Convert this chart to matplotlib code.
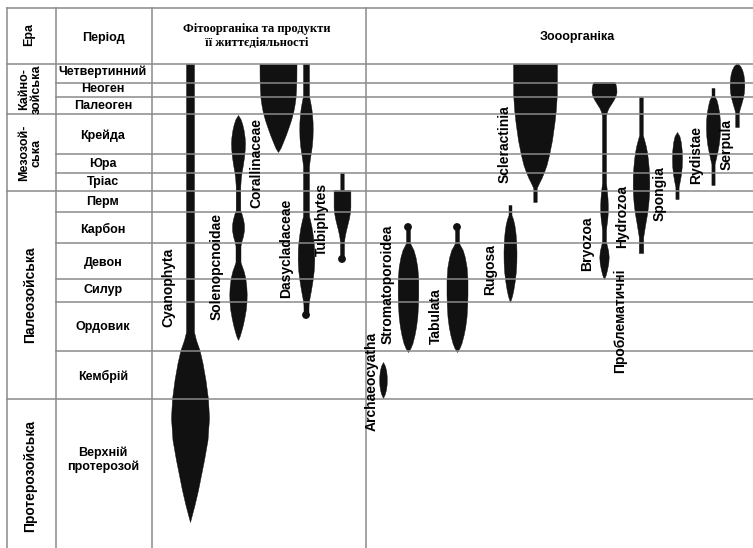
import matplotlib
matplotlib.use("Agg")
import matplotlib.pyplot as plt
from matplotlib.patches import Circle

# ---------------- data ----------------
era_names = ["Кайно-\nзойська", "Мезозой-\nська", "Палеозойська", "Протерозойська"]
era_bounds = [64, 114, 191, 399, 548]

period_names = ["Четвертинний", "Неоген", "Палеоген", "Крейда", "Юра", "Тріас",
                "Перм", "Карбон", "Девон", "Силур", "Ордовик", "Кембрій",
                "Верхній\nпротерозой"]
period_bounds = [64, 83, 97, 114, 154, 173, 191, 212, 243, 279, 302, 351, 399, 548]
period_label_y = [72, 89, 106, 136, 164, 182, 202, 229, 263, 290, 327, 376, 460]

# taxa: abundance profiles (vertical position, half-width)
cyan_y = [64, 332, 340, 350, 363, 380, 399, 418, 440, 460, 475, 490, 505, 522]
cyan_w = [4, 4, 6, 9.5, 12.5, 15.5, 18, 19, 17.5, 14, 11, 8, 4.5, 0]

solen_y = [115, 119, 124, 130, 137, 143, 150, 157, 164, 171, 178, 186, 210, 214,
           219, 224, 230, 236, 241, 246, 262, 266, 271, 278, 286, 294, 302, 310,
           318, 325, 331, 336, 340]
solen_w = [0, 2.5, 4.2, 5.6, 6.6, 7, 6.7, 6, 5, 3.8, 2.8, 2.3, 2.3, 3.6,
           5, 5.9, 6, 5, 3.5, 2.5, 2.5, 3.8, 5.6, 7.3, 8.3, 8.7, 8.5, 7.7,
           6.3, 4.8, 3.2, 1.7, 0]

coral_y = [64, 80, 90, 98, 105, 112, 120, 128, 135, 142, 148, 152]
coral_w = [18.5, 18.4, 18, 17.5, 16.5, 15.2, 13, 10.3, 7.8, 5, 2.5, 0]

dasy_y = [64, 96, 102, 108, 115, 122, 130, 138, 146, 153, 160, 166, 216, 221,
          227, 234, 242, 250, 260, 270, 280, 290, 298, 304, 309, 315]
dasy_w = [3, 3, 4.2, 5.3, 6.1, 6.6, 6.7, 6.5, 5.8, 4.8, 3.7, 3, 3, 4.2,
          5.5, 6.6, 7.6, 8.2, 8.3, 7.8, 6.6, 5, 3.5, 2.6, 2.5, 2.5]

tubi_y = [173, 190, 190, 207, 212, 218, 225, 231, 237, 242, 259]
tubi_w = [1.7, 1.7, 8.4, 8.4, 8, 7, 5.3, 3.8, 2.6, 2, 2]

archa_y = [362, 366, 371, 376, 380, 385, 390, 394, 398]
archa_w = [0, 2, 3.2, 3.7, 3.8, 3.6, 2.9, 1.8, 0]

strom_y = [227, 243, 246, 250, 257, 267, 280, 295, 305, 317, 327, 335, 343, 348, 352]
strom_w = [2, 2, 3.5, 5.5, 7.5, 9.3, 10.3, 10.3, 10, 9.3, 8, 6.5, 4.5, 2.5, 0]

tabul_y = [227, 243, 246, 250, 257, 267, 280, 295, 305, 317, 327, 335, 343, 348, 352]
tabul_w = [2, 2, 3.5, 5.7, 7.8, 9.6, 10.5, 10.5, 10.2, 9.5, 8.2, 6.6, 4.5, 2.5, 0]

rugosa_y = [205, 215, 219, 225, 233, 242, 252, 262, 272, 282, 290, 296, 302]
rugosa_w = [1.5, 1.5, 3, 4.4, 5.5, 6.2, 6.5, 6.4, 5.8, 4.6, 3.3, 2, 0]

scler_y = [64, 95, 110, 122, 140, 155, 165, 172, 178, 183, 188, 202]
scler_w = [22, 21.8, 20.8, 19.5, 17, 14, 11.5, 9, 6.5, 4, 1.7, 1.7]

bryo_y = [82, 84, 88, 92, 96, 100, 104, 108, 112, 116, 183, 190, 198, 205, 212,
          219, 225, 230, 242, 246, 251, 257, 263, 269, 275, 279]
bryo_w = [10.5, 11.5, 12.3, 12.5, 11.5, 9.5, 7, 4.5, 2.8, 2, 2, 2.8, 3.5, 3.8, 3.8,
          3.3, 2.5, 2, 2, 3, 4.2, 4.7, 4.3, 3.2, 1.7, 0]

spong_y = [97, 135, 140, 146, 153, 160, 168, 177, 186, 195, 205, 214, 222, 230, 237, 253]
spong_w = [1.8, 1.8, 3.2, 4.8, 6.1, 7, 7.7, 8.2, 8.3, 8, 7.2, 6, 4.6, 3.3, 2.2, 2.2]

rydis_y = [132, 136, 142, 150, 158, 166, 174, 181, 187, 199]
rydis_w = [0, 2.4, 3.8, 4.7, 5, 4.8, 4, 2.8, 1.6, 1.6]

serp1_y = [88, 96, 100, 106, 113, 120, 128, 136, 144, 151, 158, 164, 185]
serp1_w = [1.5, 1.5, 3.5, 5, 6.2, 6.9, 7, 6.7, 5.8, 4.5, 3, 1.6, 1.6]

serp2_y = [63, 66, 70, 75, 81, 87, 93, 99, 105, 110, 113, 127]
serp2_w = [0, 3.2, 5.2, 6.5, 7.2, 7.3, 6.8, 5.6, 3.9, 2.4, 1.8, 1.8]

taxa_profiles = [
    (190, cyan_y, cyan_w), (238, solen_y, solen_w), (278, coral_y, coral_w),
    (306, dasy_y, dasy_w), (342, tubi_y, tubi_w), (383, archa_y, archa_w),
    (408, strom_y, strom_w), (457, tabul_y, tabul_w), (510, rugosa_y, rugosa_w),
    (535, scler_y, scler_w), (604, bryo_y, bryo_w), (641, spong_y, spong_w),
    (677, rydis_y, rydis_w), (713, serp1_y, serp1_w), (737, serp2_y, serp2_w),
]
# end dots (x, y)
dots = [(306, 315), (342, 259), (408, 227), (457, 227)]

taxa_labels = ["Cyanophyta", "Solenopcnoidae", "Corallinaceae", "Dasycladaceae",
               "Tubiphytes", "Archaeocyatha", "Stromatoporoidea", "Tabulata",
               "Rugosa", "Scleractinia", "Bryozoa", "Hydrozoa", "Проблематичні",
               "Spongia", "Rydistae", "Serpula"]
taxa_label_pos = [(168, 287), (217, 267), (256, 163), (286, 248), (322, 219),
                  (372, 381), (388, 284), (436, 316), (490, 270), (505, 144),
                  (587, 244), (622, 216), (620, 321), (660, 194), (696, 155),
                  (727, 145)]

# ---------------- figure ----------------
W, H = 753, 548
fig = plt.figure(figsize=(W / 100, H / 100), dpi=100)
ax = fig.add_axes([0, 0, 1, 1])
ax.set_xlim(0, W)
ax.set_ylim(H, 0)
ax.axis("off")

SANS = ["Liberation Sans", "DejaVu Sans"]
SERIF = ["Liberation Serif", "DejaVu Serif"]
gc = "#8a8a8a"
glw = 1.1

x_left, x_era, x_per, x_phyto, x_right = 7, 56, 152, 366, W

# grid
ax.plot([x_left, x_right], [8, 8], color=gc, lw=glw)
for b in era_bounds[:-1]:
    ax.plot([x_left, x_right], [b, b], color=gc, lw=glw)
for b in period_bounds[1:-1]:
    if b not in era_bounds:
        ax.plot([x_era, x_right], [b, b], color=gc, lw=glw)
for xv in [x_left, x_era, x_per, x_phyto]:
    ax.plot([xv, xv], [8, H], color=gc, lw=glw)

# headers
ax.text(29, 34, "Ера", rotation=90, ha="center", va="center", fontsize=9,
        fontweight="bold", family=SANS)
ax.text(103, 38, "Період", ha="center", va="center", fontsize=9,
        fontweight="bold", family=SANS)
ax.text(257, 36, "Фітоорганіка та продукти\nїї життєдіяльності", ha="center",
        va="center", fontsize=9, fontweight="bold", family=SERIF, linespacing=1.25)
ax.text(577, 37, "Зооорганіка", ha="center", va="center", fontsize=9,
        fontweight="bold", family=SANS)

# era labels
for i, name in enumerate(era_names):
    yc = (era_bounds[i] + era_bounds[i + 1]) / 2
    fs = 9 if "\n" in name else 10
    if i == 3:
        yc = 476
    ax.text(30, yc, name, rotation=90, ha="center", va="center", fontsize=fs,
            fontweight="bold", family=SANS, linespacing=1.05)

# period labels
for name, yc in zip(period_names, period_label_y):
    ax.text(103, yc, name, ha="center", va="center", fontsize=9,
            fontweight="bold", family=SANS, linespacing=1.15)

# taxa shapes
for xc, ys, ws in taxa_profiles:
    ax.fill_betweenx(ys, [xc - w for w in ws], [xc + w for w in ws],
                     color="#111111", lw=0.3, edgecolor="#111111")
for xd, yd in dots:
    ax.add_patch(Circle((xd, yd), 3.2, color="#111111"))

for name, (xt, yt) in zip(taxa_labels, taxa_label_pos):
    ax.text(xt, yt, name, rotation=90, ha="center", va="center", fontsize=10,
            fontweight="bold", family=SANS)

fig.savefig("out.png", dpi=100)
